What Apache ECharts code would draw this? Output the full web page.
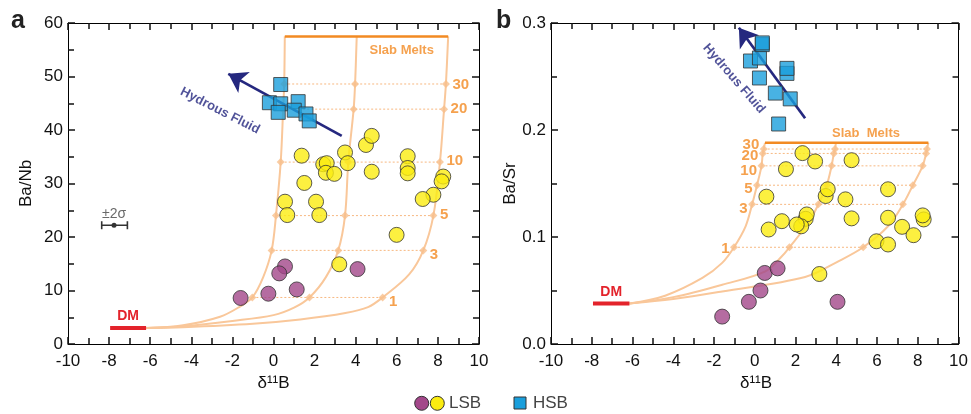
<!DOCTYPE html>
<html><head><meta charset="utf-8">
<script src="https://cdn.jsdelivr.net/npm/echarts@6/dist/echarts.min.js"></script>
<style>html,body{margin:0;padding:0;background:#fff}#c{width:971px;height:414px}</style>
</head><body><div id="c"></div><script>
// ---------- Panel a : Ba/Nb vs d11B ----------
const hsbA = [[0.35,48.5],[-0.2,45.1],[0.35,44.9],[0.23,43.3],[1.2,45.3],[1.01,43.7],[1.58,43.0],[1.74,41.7]];
const lsbYellowA = [[1.37,35.2],[1.5,30.1],[2.42,33.6],[2.59,33.8],[2.55,32.0],[2.96,31.8],[3.48,35.8],[3.61,33.8],[4.5,37.2],[4.78,38.9],[4.78,32.2],[6.53,35.1],[6.53,32.9],[6.53,31.9],[8.26,31.3],[8.18,30.4],[7.78,27.9],[7.26,27.1],[0.56,26.6],[2.07,26.6],[0.67,24.1],[2.23,24.1],[5.99,20.4],[3.2,14.9]];
const lsbPurpleA = [[0.56,14.5],[0.28,13.2],[4.09,14.0],[1.13,10.2],[-0.25,9.4],[-1.6,8.6]];
const curveA1 = [[-6.2,3.0],[-4.4,3.5],[-2.6,5.1],[-1.63,7.0],[-1.03,8.7],[-0.5,12.5],[-0.09,17.5],[0.12,24.0],[0.35,34.0],[0.47,43.9],[0.52,48.6],[0.55,57.5]];
const curveA2 = [[-6.2,3.0],[-4.4,3.3],[-2,4.3],[0,5.4],[1.0,6.8],[1.75,8.7],[2.55,12.5],[3.15,17.5],[3.48,24.0],[3.64,34.0],[3.9,43.9],[3.97,48.6],[4.05,57.5]];
const curveA3 = [[-6.2,3.0],[-4.4,3.15],[-1,3.8],[1.3,4.6],[3.5,5.8],[4.6,6.9],[5.31,8.7],[6.6,13],[7.29,17.5],[7.78,24.0],[8.1,34.0],[8.3,43.9],[8.39,48.6],[8.5,57.5]];
const pctYA = [8.7,17.5,24.0,34.0,43.9,48.6];
const mixXA1 = [-1.03,-0.09,0.12,0.35,0.47,0.52];
const mixXA2 = [1.75,3.15,3.48,3.64,3.9,3.97];
const mixXA3 = [5.31,7.29,7.78,8.1,8.3,8.39];
const slabA = [[0.55,57.5],[8.5,57.5]];
const dmA = [[-7.95,3.0],[-6.2,3.0]];
const arrowA = [[3.32,38.9],[-2.2,50.5]];
const errBarA = [[-8.36,22.2],[-7.76,22.2],[-7.11,22.2]];

// ---------- Panel b : Ba/Sr vs d11B ----------
const hsbB = [[-0.21,0.2645],[0.23,0.2673],[0.37,0.2798],[0.37,0.2814],[0.23,0.2486],[1.58,0.2529],[1.58,0.2576],[1.01,0.2345],[1.74,0.2291],[1.17,0.2056]];
const lsbYellowB = [[2.34,0.1784],[2.96,0.1706],[4.75,0.1718],[1.53,0.1634],[3.48,0.1383],[3.58,0.1446],[6.54,0.1446],[0.57,0.1377],[4.45,0.1352],[2.5,0.117],[2.55,0.1211],[2.28,0.110],[2.06,0.1117],[1.33,0.1148],[0.68,0.107],[4.75,0.1174],[6.54,0.118],[7.23,0.1095],[7.79,0.1017],[8.29,0.1164],[8.24,0.1202],[5.97,0.096],[6.54,0.093],[3.17,0.0654]];
const lsbPurpleB = [[0.49,0.0664],[1.12,0.0707],[0.28,0.050],[-0.29,0.0394],[4.06,0.0394],[-1.6,0.0256]];
const curveB1 = [[-6.15,0.0378],[-4.4,0.0451],[-2.57,0.0617],[-1.6,0.0758],[-1.02,0.0904],[-0.45,0.11],[-0.13,0.1305],[0.11,0.1484],[0.33,0.1665],[0.39,0.1781],[0.44,0.1822],[0.5,0.188]];
const curveB2 = [[-6.15,0.0378],[-4,0.0438],[-1.6,0.0554],[0.52,0.0679],[1.33,0.082],[1.7,0.0904],[2.63,0.1133],[3.12,0.1305],[3.53,0.1484],[3.77,0.1665],[3.88,0.1781],[3.94,0.1822],[3.98,0.188]];
const curveB3 = [[-6.15,0.0378],[-4,0.042],[-1.6,0.0491],[2.47,0.0626],[4.1,0.0773],[5.32,0.0904],[6.54,0.11],[7.27,0.1305],[7.76,0.1484],[8.24,0.1665],[8.41,0.1781],[8.45,0.1822],[8.52,0.188]];
const pctYB = [0.0904,0.1305,0.1484,0.1665,0.1781,0.1822];
const mixXB1 = [-1.02,-0.13,0.11,0.33,0.39,0.44];
const mixXB2 = [1.7,3.12,3.53,3.77,3.88,3.94];
const mixXB3 = [5.32,7.27,7.76,8.24,8.41,8.45];
const slabB = [[0.5,0.188],[8.52,0.188]];
const dmB = [[-7.94,0.0378],[-6.15,0.0378]];
const arrowB = [[2.47,0.211],[-0.78,0.2955]];

const pctLabels = ['1','3','5','10','20','30'];

// text anchors (data coordinates)
const slabLabelA = [6.24,54.9], slabLabelB = [5.46,0.197];
const fluidLabelA = [-2.6,43.6], fluidLabelB = [-1.02,0.248];
const sigmaLabelA = [-7.76,24.3];

// ---------- styles ----------
const FONT = '"Liberation Sans", Arial, sans-serif';
const C_PURPLE = '#a3478a', C_YELLOW = '#fbec10', C_BLUE = '#1a9fdc';
const C_CURVE = '#f9c79a', C_ORANGE = '#f28a22', C_DOT = '#f7b880', C_NAVY = '#25287f', C_RED = '#e3232b';
const offA = [4,4,-1,-1,0,1], offB = [2,4,4,5,2,-4];
const TICK = {show:true, inside:true, length:7, lineStyle:{color:'#111', width:1.5}};
const MINOR = {show:true, splitNumber:2, length:6, lineStyle:{color:'#111', width:1.5}};

function xAx(gi, top) {
  return {type:'value', gridIndex:gi, min:-10, max:10, interval:2, position: top?'top':'bottom',
    axisLine:{show:true, onZero:false, lineStyle:{color:'#000', width:1}},
    axisTick:TICK, minorTick:MINOR, splitLine:{show:false},
    axisLabel:{show:!top, margin:9, fontSize:17, color:'#111', fontFamily:FONT}};
}
function yAx(gi, right, max, interval, name, fmt) {
  const o = {type:'value', gridIndex:gi, min:0, max:max, interval:interval, position: right?'right':'left',
    axisLine:{show:true, onZero:false, lineStyle:{color:'#000', width:1}},
    axisTick:TICK, minorTick:MINOR, splitLine:{show:false},
    axisLabel:{show:!right, margin:5, fontSize:17, color:'#111', fontFamily:FONT}};
  if (fmt) o.axisLabel.formatter = fmt;
  if (!right) { o.name = name; o.nameLocation = 'middle'; o.nameGap = gi===0?33:32; o.nameTextStyle = {fontSize:17, color:'#111', fontFamily:FONT}; }
  return o;
}

const series = [];
const noBorder = {textBorderWidth:0, textBorderColor:'transparent', textShadowBlur:0};
function addPanel(xi, yi, d) {
  const base = {xAxisIndex:xi, yAxisIndex:yi, silent:true, animation:false};
  [d.c1, d.c2, d.c3].forEach(c => series.push(Object.assign({type:'line', data:c, smooth:0.35, symbol:'none', lineStyle:{color:C_CURVE, width:2}, z:2}, base)));
  d.pctY.forEach((y,i) => series.push(Object.assign({type:'line', data:[[d.m1[i],y],[d.m2[i],y],[d.m3[i],y]], symbol:'none', lineStyle:{color:C_DOT, width:1, type:[2,2]}, z:1}, base)));
  const dia = [];
  d.pctY.forEach((y,i) => { dia.push([d.m1[i],y],[d.m2[i],y],[d.m3[i],y]); });
  series.push(Object.assign({type:'scatter', data:dia, symbol:'diamond', symbolSize:8, itemStyle:{color:'#f8bf8c'}, z:3}, base));
  series.push(Object.assign({type:'line', data:d.slab, symbol:'none', lineStyle:{color:C_ORANGE, width:2.5}, z:3}, base));
  series.push(Object.assign({type:'line', data:d.dm, symbol:'none', lineStyle:{color:C_RED, width:4}, z:4,
    markPoint:{symbol:'circle', symbolSize:1, itemStyle:{color:'transparent'}, label:Object.assign({show:true, position:'top', distance:4, formatter:'DM', color:C_RED, fontWeight:'bold', fontSize:14, fontFamily:FONT}, noBorder),
      data:[{coord:[(d.dm[0][0]+d.dm[1][0])/2, d.dm[0][1]]}]}}, base));
  series.push(Object.assign({type:'lines', coordinateSystem:'cartesian2d', data:[{coords:d.arrow}], symbol:['none','arrow'], symbolSize:[15,18], lineStyle:{color:C_NAVY, width:2.7, opacity:1, curveness:0}, z:4}, base));
  const lx = d.labelSide==='right' ? d.m3 : d.m1;
  series.push(Object.assign({type:'scatter', symbolSize:1, itemStyle:{color:'rgba(0,0,0,0)'}, z:6,
    data: d.pctY.map((y,i)=>({value:[lx[i],y], label:{show:true, formatter:pctLabels[i], offset:[0,d.off[i]]}})),
    label:Object.assign({show:true, position:d.labelSide, distance:d.labelSide==='right'?6:4, color:C_ORANGE, fontWeight:'bold', fontSize:15, fontFamily:FONT}, noBorder)}, base));
  series.push(Object.assign({type:'scatter', symbolSize:1, itemStyle:{color:'rgba(0,0,0,0)'}, z:6,
    data:[{value:d.slabLabel, label:{formatter:d.slabText, color:C_ORANGE, rotate:0}},
          {value:d.fluidLabel, label:{formatter:'Hydrous Fluid', color:C_NAVY, rotate:d.fluidRot}}],
    label:Object.assign({show:true, position:'inside', fontWeight:'bold', fontSize:13, fontFamily:FONT}, noBorder)}, base));
  const ptStyle = c => ({color:c, borderColor:'#333', borderWidth:1});
  series.push(Object.assign({type:'scatter', data:d.hsb, symbol:'rect', symbolSize:14, itemStyle:ptStyle(C_BLUE), z:5}, base));
  series.push(Object.assign({type:'scatter', data:d.yellow, symbol:'circle', symbolSize:15, itemStyle:ptStyle(C_YELLOW), z:5}, base));
  series.push(Object.assign({type:'scatter', data:d.purple, symbol:'circle', symbolSize:15, itemStyle:ptStyle(C_PURPLE), z:5}, base));
}
addPanel(0,0,{c1:curveA1,c2:curveA2,c3:curveA3,pctY:pctYA,m1:mixXA1,m2:mixXA2,m3:mixXA3,slab:slabA,dm:dmA,arrow:arrowA,
  labelSide:'right', off:offA, slabLabel:slabLabelA, slabText:'Slab Melts', fluidLabel:fluidLabelA, fluidRot:-27,
  hsb:hsbA, yellow:lsbYellowA, purple:lsbPurpleA});
addPanel(2,2,{c1:curveB1,c2:curveB2,c3:curveB3,pctY:pctYB,m1:mixXB1,m2:mixXB2,m3:mixXB3,slab:slabB,dm:dmB,arrow:arrowB,
  labelSide:'left', off:offB, slabLabel:slabLabelB, slabText:'Slab  Melts', fluidLabel:fluidLabelB, fluidRot:-49,
  hsb:hsbB, yellow:lsbYellowB, purple:lsbPurpleB});

series.push({type:'line', xAxisIndex:0, yAxisIndex:0, silent:true, animation:false, z:5,
  data: errBarA.map((p,i)=>({value:p, symbol: i===1?'circle':'rect', symbolSize: i===1?5:[1.6,8]})),
  lineStyle:{color:'#333', width:1.5}, itemStyle:{color:'#333'}, showAllSymbol:true});
series.push({type:'scatter', xAxisIndex:0, yAxisIndex:0, silent:true, animation:false, symbolSize:1, itemStyle:{color:'rgba(0,0,0,0)'},
  data:[sigmaLabelA], label:Object.assign({show:true, position:'inside', formatter:'±2σ', color:'#444', fontSize:14, fontFamily:FONT}, noBorder)});

const xTitle = (cx) => ({type:'text', x:cx, y:383, style:{text:'δ¹¹B', font:'17px '+FONT, fill:'#111', align:'center', textAlign:'center', verticalAlign:'middle', textVerticalAlign:'middle'}});

const chart = echarts.init(document.getElementById('c'));
chart.setOption({
  animation:false,
  grid:[{left:68, right:492, top:23, bottom:70},{left:551, right:10, top:23, bottom:70}],
  xAxis:[xAx(0,false), xAx(0,true), xAx(1,false), xAx(1,true)],
  yAxis:[yAx(0,false,60,10,'Ba/Nb'), yAx(0,true,60,10,''), yAx(1,false,0.3,0.1,'Ba/Sr', v=>v.toFixed(1)), yAx(1,true,0.3,0.1,'')],
  series: series,
  graphic:[
    xTitle(273.5), xTitle(756),
    {type:'text', left:11, top:9, style:{text:'a', font:'bold 25px '+FONT, fill:'#222'}},
    {type:'text', left:496, top:9, style:{text:'b', font:'bold 25px '+FONT, fill:'#222'}},
    {type:'circle', shape:{cx:421.7, cy:403.3, r:7}, style:{fill:C_PURPLE, stroke:'#333', lineWidth:1}},
    {type:'circle', shape:{cx:437.3, cy:403.3, r:7}, style:{fill:C_YELLOW, stroke:'#333', lineWidth:1}},
    {type:'text', x:449, y:403.5, style:{text:'LSB', font:'17px '+FONT, fill:'#444', verticalAlign:'middle', textVerticalAlign:'middle'}},
    {type:'rect', shape:{x:514, y:397, width:12, height:12}, style:{fill:C_BLUE, stroke:'#333', lineWidth:1}},
    {type:'text', x:533, y:403.5, style:{text:'HSB', font:'17px '+FONT, fill:'#444', verticalAlign:'middle', textVerticalAlign:'middle'}}
  ]
});
</script></body></html>
